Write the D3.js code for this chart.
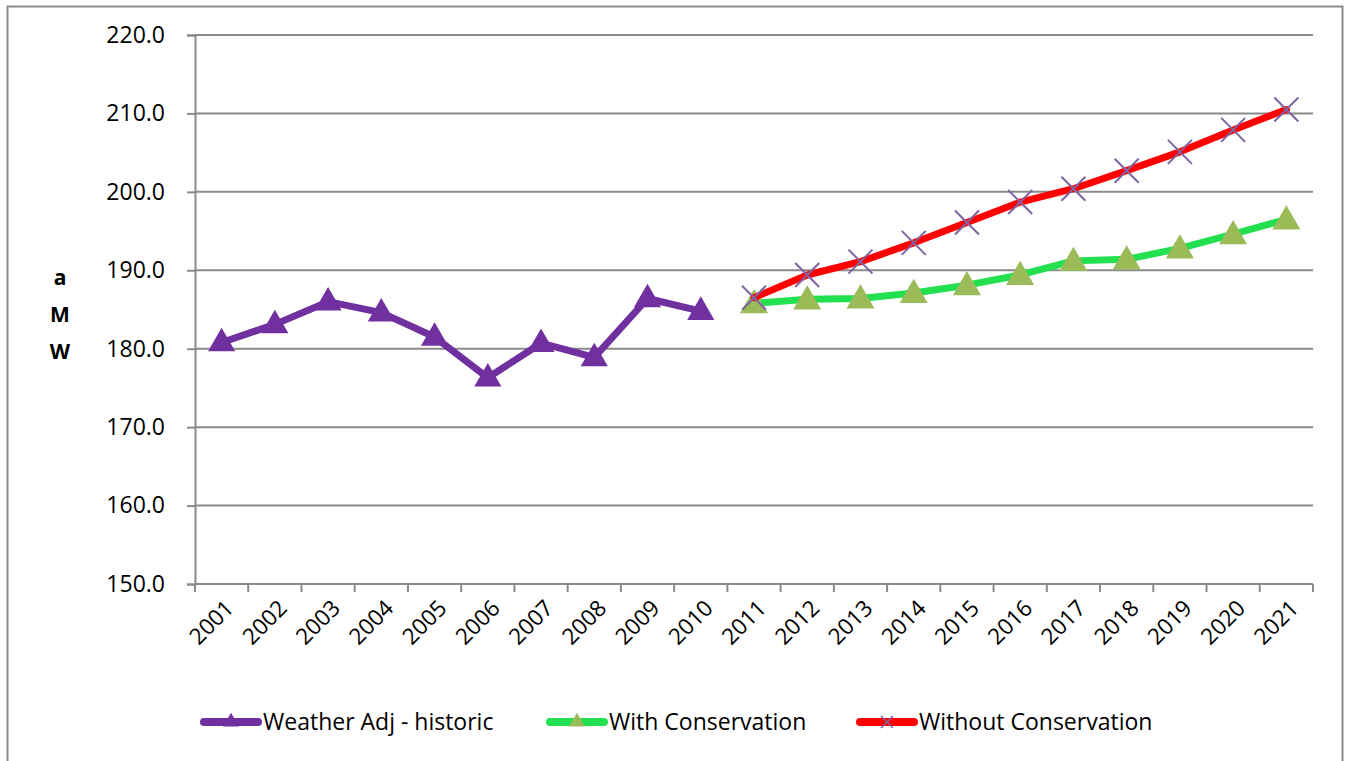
<!DOCTYPE html>
<html>
<head>
<meta charset="utf-8">
<script src="https://cdn.jsdelivr.net/npm/d3@7"></script>
<style>
  html, body { margin: 0; padding: 0; background: #fff; }
  svg { display: block; font-family: "Open Sans", Lato, sans-serif; }
</style>
</head>
<body>
<svg id="chart" width="1346" height="761"></svg>
<script>
// Annual load, average megawatts
const years = ["2001","2002","2003","2004","2005","2006","2007","2008","2009","2010","2011",
               "2012","2013","2014","2015","2016","2017","2018","2019","2020","2021"];
const historicYears = years.slice(0, 10);
const forecastYears = years.slice(10);
const historic = [180.8, 183.1, 186.0, 184.6, 181.5, 176.3, 180.7, 178.9, 186.4, 184.8];
const withConservation = [185.8, 186.3, 186.4, 187.1, 188.1, 189.4, 191.2, 191.4, 192.8, 194.6, 196.5];
const withoutConservation = [186.5, 189.4, 191.1, 193.5, 196.1, 198.7, 200.4, 202.7, 205.1, 207.9, 210.5];
const yTicks = [150, 160, 170, 180, 190, 200, 210, 220];
const seriesNames = ["Weather Adj - historic", "With Conservation", "Without Conservation"];

const svg = d3.select("#chart");
const plot = { left: 195, right: 1313, top: 35, bottom: 584 };

// chart frame
svg.append("rect")
  .attr("x", 7.5).attr("y", 6.5).attr("width", 1335).attr("height", 780)
  .attr("fill", "#fff").attr("stroke", "#8c8c8c").attr("stroke-width", 2);

const x = d3.scaleBand().domain(years).range([plot.left, plot.right]).padding(0);
const y = d3.scaleLinear().domain([150, 220]).range([plot.bottom, plot.top]);
const cx = d => x(d) + x.bandwidth() / 2;

// horizontal gridlines
svg.append("g").selectAll("line").data(yTicks.filter(t => t > 150)).join("line")
  .attr("x1", plot.left).attr("x2", plot.right)
  .attr("y1", d => y(d)).attr("y2", d => y(d))
  .attr("stroke", "#8a8a8a").attr("stroke-width", 2);

// y axis
const yAxis = svg.append("g").attr("transform", `translate(${plot.left},0)`)
  .call(d3.axisLeft(y).tickValues(yTicks).tickFormat(d3.format(".1f")).tickSize(8).tickPadding(22));
yAxis.select(".domain").attr("stroke", "#8a8a8a").attr("stroke-width", 2);
yAxis.selectAll(".tick line").attr("stroke", "#8a8a8a").attr("stroke-width", 2);
yAxis.selectAll("text").attr("font-size", 23).attr("fill", "#000").attr("font-family", "Open Sans");

// x axis: ticks on category boundaries
const xAxisG = svg.append("g").attr("transform", `translate(0,${plot.bottom})`);
xAxisG.append("line").attr("x1", plot.left).attr("x2", plot.right)
  .attr("stroke", "#8a8a8a").attr("stroke-width", 2);
const boundaries = years.map(d => x(d)).concat([plot.right]);
xAxisG.selectAll("line.tk").data(boundaries).join("line").attr("class", "tk")
  .attr("x1", d => d).attr("x2", d => d).attr("y1", 0).attr("y2", 8)
  .attr("stroke", "#8a8a8a").attr("stroke-width", 2);
xAxisG.selectAll("text").data(years).join("text")
  .attr("transform", d => `translate(${cx(d) + 8},${20}) rotate(-45)`)
  .attr("text-anchor", "end").attr("dy", "0.35em")
  .attr("font-size", 22.5).attr("fill", "#000")
  .text(d => d);

// axis title, stacked letters
const titleLetters = ["a", "M", "W"];
svg.append("g").selectAll("text").data(titleLetters).join("text")
  .attr("x", 60).attr("y", (d, i) => 285 + i * 37)
  .attr("text-anchor", "middle").attr("font-size", 21).attr("font-weight", "bold")
  .attr("fill", "#000").text(d => d);

const line = d3.line().x(d => cx(d.year)).y(d => y(d.value));
const tri = d3.symbol().type(d3.symbolTriangle);

function drawSeries(ys, vals, color, width) {
  const pts = ys.map((yr, i) => ({ year: yr, value: vals[i] }));
  svg.append("path").datum(pts).attr("d", line)
    .attr("fill", "none").attr("stroke", color).attr("stroke-width", width)
    .attr("stroke-linejoin", "round").attr("stroke-linecap", "round");
  return pts;
}

// historic series
const hPts = drawSeries(historicYears, historic, "#7030a0", 7);
svg.append("g").selectAll("path").data(hPts).join("path")
  .attr("d", tri.size(320)())
  .attr("transform", d => `translate(${cx(d.year)},${y(d.value) + 1})`)
  .attr("fill", "#7030a0");

// with conservation
const gPts = drawSeries(forecastYears, withConservation, "#22e050", 7);
svg.append("g").selectAll("path").data(gPts).join("path")
  .attr("d", tri.size(340)())
  .attr("transform", d => `translate(${cx(d.year)},${y(d.value) + 2})`)
  .attr("fill", "#9bbb59");

// without conservation
const rPts = drawSeries(forecastYears, withoutConservation, "#ff0000", 7);
const xMark = s => `M${-s},${-s}L${s},${s}M${-s},${s}L${s},${-s}`;
svg.append("g").selectAll("path").data(rPts).join("path")
  .attr("d", xMark(12))
  .attr("transform", d => `translate(${cx(d.year)},${y(d.value)})`)
  .attr("stroke", "#8064a2").attr("stroke-width", 2).attr("fill", "none");

// legend
const legendItems = [
  { name: seriesNames[0], x: 204, line: "#7030a0", marker: "tri", mcolor: "#7030a0" },
  { name: seriesNames[1], x: 550, line: "#22e050", marker: "tri", mcolor: "#9bbb59" },
  { name: seriesNames[2], x: 860, line: "#ff0000", marker: "x", mcolor: "#8064a2" }
];
const lg = svg.append("g").selectAll("g").data(legendItems).join("g")
  .attr("transform", d => `translate(${d.x},722)`);
lg.append("line").attr("x1", 0).attr("x2", 54)
  .attr("stroke", d => d.line).attr("stroke-width", 8).attr("stroke-linecap", "round");
lg.append("path")
  .attr("d", d => d.marker === "tri" ? tri.size(110)() : xMark(6))
  .attr("transform", "translate(27,0)")
  .attr("fill", d => d.marker === "tri" ? d.mcolor : "none")
  .attr("stroke", d => d.marker === "x" ? d.mcolor : "none")
  .attr("stroke-width", 1.5);
lg.append("text").attr("x", 59).attr("dy", "0.35em")
  .attr("font-size", 23).attr("fill", "#000").text(d => d.name);
</script>
</body>
</html>
